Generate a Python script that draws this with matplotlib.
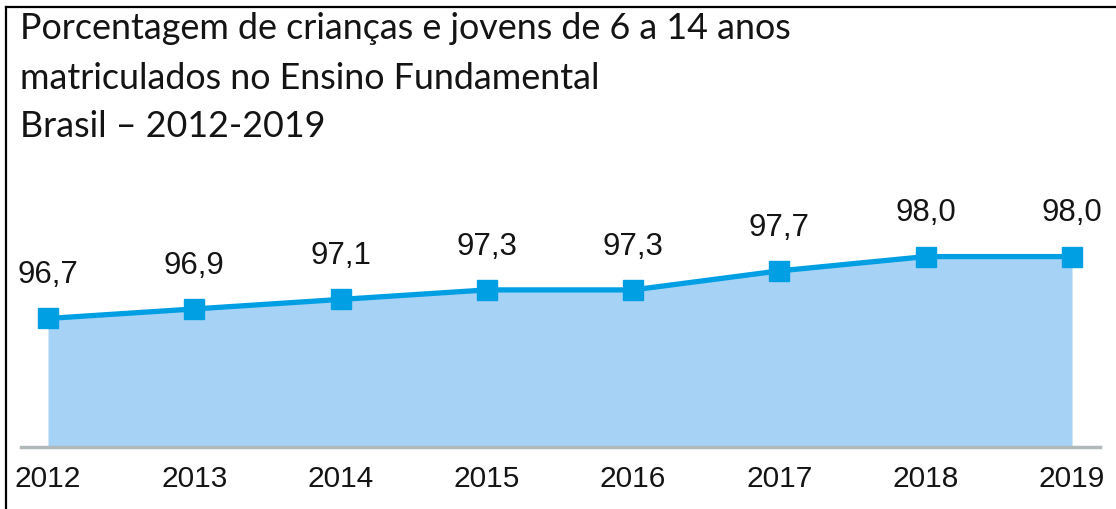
import matplotlib
matplotlib.use("Agg")
import matplotlib.pyplot as plt
from matplotlib.lines import Line2D

anos = [2012, 2013, 2014, 2015, 2016, 2017, 2018, 2019]
valores = [96.7, 96.9, 97.1, 97.3, 97.3, 97.7, 98.0, 98.0]
rotulos = ["96,7", "96,9", "97,1", "97,3", "97,3", "97,7", "98,0", "98,0"]
titulo = ["Porcentagem de crianças e jovens de 6 a 14 anos",
          "matriculados no Ensino Fundamental",
          "Brasil – 2012-2019"]

W, H = 1116, 510
fig = plt.figure(figsize=(W / 100, H / 100), dpi=100)

# axes placed in pixel units
left, right, bottom, top = 21, 1100, 448, 150
ax = fig.add_axes([left / W, (H - bottom) / H, (right - left) / W, (bottom - top) / H])

linha = "#009fe3"
area = "#a6d3f5"
num_font = ["Liberation Sans", "DejaVu Sans"]

ax.fill_between(anos, valores, 94.0, color=area, linewidth=0, zorder=1)
ax.plot(anos, valores, color=linha, linewidth=3.8, marker="s", markersize=14.5,
        zorder=3, clip_on=False)

for x, y, t in zip(anos, valores, rotulos):
    ax.annotate(t, (x, y), xytext=(0, 26), textcoords="offset points",
                ha="center", va="baseline", fontsize=22.5, color="#141414",
                family=num_font)

px = (1072 - 48) / 7
ax.set_xlim(2012 - 27 / px, 2019 + 28 / px)
ax.set_ylim(94.0, 100.26)

for s in ["top", "right", "left"]:
    ax.spines[s].set_visible(False)
ax.spines["bottom"].set_color("#b1b9bb")
ax.spines["bottom"].set_linewidth(2.5)
ax.set_yticks([])
ax.set_xticks(anos)
ax.set_xticklabels([str(a) for a in anos], fontsize=21.5, color="#141414", family=num_font)
ax.tick_params(axis="x", length=0, pad=12)

# title, three lines
for t, yb in zip(titulo, [39, 89, 137]):
    fig.text(20 / W, (H - yb) / H, t, ha="left", va="baseline", fontsize=25.8,
             color="#141414", family=["Lato", "DejaVu Sans"])

# frame lines top and left
fig.add_artist(Line2D([6 / W, 1], [(H - 8) / H, (H - 8) / H], color="black", linewidth=1.6))
fig.add_artist(Line2D([6 / W, 6 / W], [0, (H - 8) / H], color="black", linewidth=1.6))

fig.savefig("out.png", dpi=100, facecolor="white")
